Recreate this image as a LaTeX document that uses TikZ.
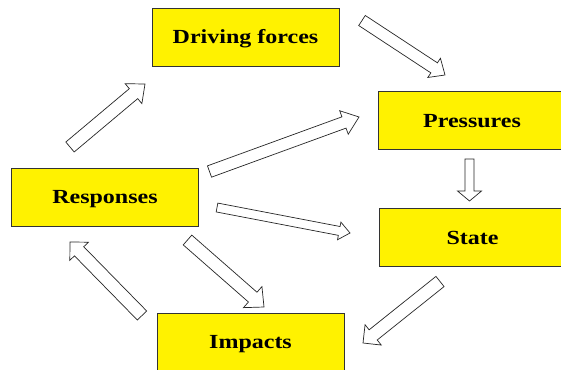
\documentclass[tikz,border=0pt]{standalone}
\usepackage{fontspec}
\setmainfont{Liberation Serif}
\usetikzlibrary{calc}
\tikzset{
  boxnode/.style={draw=black!80, fill=yellow, line width=0.8pt, rectangle,
    inner sep=0pt, minimum width=187pt, minimum height=58pt,
    text height=13.3pt, text depth=0pt,
    font=\fontsize{20}{24}\selectfont\bfseries},
  blockarrow/.style={draw=black!85, fill=white, line width=0.7pt, line join=miter}
}
\newcommand\boxtext[1]{\scalebox{1.2}[1]{#1}}
\newcommand\barrow[5]{%
  \coordinate (ba-m) at ($(#2)!#5!(#1)$);
  \draw[blockarrow] ($(#1)!#3!90:(#2)$) -- ($(ba-m)!#3!90:(#2)$) -- ($(ba-m)!#4!90:(#2)$) -- (#2)
    -- ($(ba-m)!#4!-90:(#2)$) -- ($(ba-m)!#3!-90:(#2)$) -- ($(#1)!#3!-90:(#2)$) -- cycle;
}
\begin{document}
\begin{tikzpicture}[x=1pt,y=-1pt]
\clip (0,0) rectangle (561,369);
\fill[white] (0,0) rectangle (561,369);
% boxes
\node[boxnode] (drive) at (245.5,37) {\boxtext{Driving forces}};
\node[boxnode] (press) at (472,120.5) {\boxtext{Pressures}};
\node[boxnode] (state) at (472.5,237.5) {\boxtext{State}};
\node[boxnode] (resp) at (105,197) {\boxtext{Responses}};
\node[boxnode] (imp) at (250.5,342) {\boxtext{Impacts}};
% arrow end points
\coordinate (a1t) at (70,147);     \coordinate (a1h) at (145,84);
\coordinate (a2t) at (362,20.5);   \coordinate (a2h) at (445,75);
\coordinate (a3t) at (209.5,171.5);\coordinate (a3h) at (359,117);
\coordinate (a4t) at (469.5,159);  \coordinate (a4h) at (469.5,201);
\coordinate (a5t) at (217,207.5);  \coordinate (a5h) at (350,233);
\coordinate (a6t) at (187.5,240);  \coordinate (a6h) at (264,307);
\coordinate (a7t) at (440,281.5);  \coordinate (a7h) at (363,343);
\coordinate (a8t) at (142,315.5);  \coordinate (a8h) at (70,242);
% arrows
\barrow{a1t}{a1h}{6.5pt}{13pt}{15pt}
\barrow{a2t}{a2h}{6pt}{11.5pt}{13pt}
\barrow{a3t}{a3h}{6pt}{12.5pt}{16pt}
\barrow{a4t}{a4h}{4.5pt}{12pt}{10pt}
\barrow{a5t}{a5h}{4.5pt}{9pt}{11pt}
\barrow{a6t}{a6h}{6.5pt}{14pt}{15pt}
\barrow{a7t}{a7h}{6.5pt}{13pt}{13pt}
\barrow{a8t}{a8h}{6.5pt}{13pt}{13pt}
\end{tikzpicture}
\end{document}
